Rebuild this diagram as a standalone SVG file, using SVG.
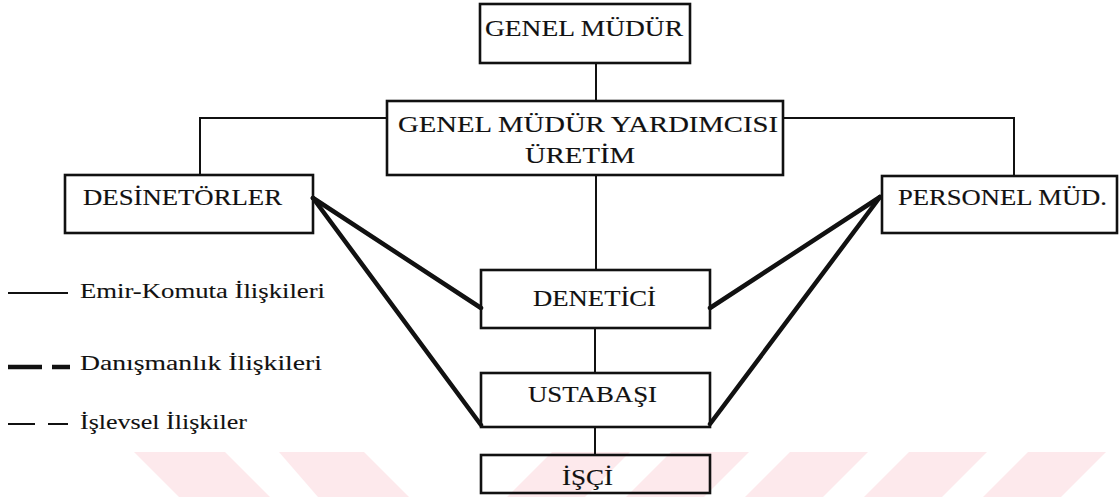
<svg xmlns="http://www.w3.org/2000/svg" width="1119" height="497" viewBox="0 0 1119 497">
<defs>
<style>
.box{fill:none;stroke:#111;stroke-width:2.6}
.t{font-family:"Liberation Serif","Times New Roman",serif;fill:#111;font-size:24px;stroke:#111;stroke-width:0.15}
.lt{font-family:"Liberation Serif","Times New Roman",serif;fill:#111;font-size:21px;stroke:#111;stroke-width:0.1}
.c{stroke:#111;stroke-width:2;fill:none}
.ck{stroke:#111;stroke-width:4.5;fill:none;stroke-linecap:round}
.wm{fill:#fde9ec}
</style>
</defs>
<rect width="1119" height="497" fill="#fff"/>
<g id="watermark">
<polygon class="wm" points="134,452 225,452 270,497 179,497"/>
<polygon class="wm" points="279,452 364,452 409,497 318,497"/>
<polygon class="wm" points="552,452 630,452 585,497 507,497"/>
<polygon class="wm" points="671,452 749,452 704,497 626,497"/>
<polygon class="wm" points="790,452 868,452 823,497 745,497"/>
<polygon class="wm" points="909,452 987,452 942,497 864,497"/>
<polygon class="wm" points="1028,452 1106,452 1061,497 983,497"/>
</g>
<g id="connectors">
<line class="c" x1="596" y1="63" x2="596" y2="101"/>
<polyline class="c" points="387,118 200,118 200,175"/>
<polyline class="c" points="783,118 1014,118 1014,176"/>
<line class="c" x1="596" y1="175" x2="596" y2="270"/>
<line class="c" x1="595" y1="328" x2="595" y2="373"/>
<line class="c" x1="595" y1="427" x2="595" y2="455"/>
<line class="ck" x1="313" y1="198" x2="481" y2="308"/>
<line class="ck" x1="313" y1="198" x2="481" y2="425"/>
<line class="ck" x1="880" y1="197" x2="710" y2="308"/>
<line class="ck" x1="880" y1="197" x2="710" y2="424"/>
</g>
<g id="genel-mudur">
<rect class="box" x="480" y="4" width="210" height="59"/>
<text class="t" x="485" y="36" textLength="198" lengthAdjust="spacingAndGlyphs">GENEL MÜDÜR</text>
</g>
<g id="gmy-uretim">
<rect class="box" x="387" y="101" width="396" height="74"/>
<text class="t" x="398" y="132" textLength="380" lengthAdjust="spacingAndGlyphs">GENEL MÜDÜR YARDIMCISI</text>
<text class="t" x="525" y="163" textLength="110" lengthAdjust="spacingAndGlyphs">ÜRETİM</text>
</g>
<g id="desinetorler">
<rect class="box" x="65" y="175" width="248" height="58"/>
<text class="t" x="83" y="205" textLength="199" lengthAdjust="spacingAndGlyphs">DESİNETÖRLER</text>
</g>
<g id="personel-mud">
<rect class="box" x="882" y="176" width="235" height="57"/>
<text class="t" x="898" y="205" textLength="209" lengthAdjust="spacingAndGlyphs">PERSONEL MÜD.</text>
</g>
<g id="denetici">
<rect class="box" x="481" y="270" width="229" height="58"/>
<text class="t" x="533" y="306" textLength="123" lengthAdjust="spacingAndGlyphs">DENETİCİ</text>
</g>
<g id="ustabasi">
<rect class="box" x="481" y="373" width="229" height="54"/>
<text class="t" x="528" y="402" textLength="129" lengthAdjust="spacingAndGlyphs">USTABAŞI</text>
</g>
<g id="isci">
<rect class="box" x="481" y="455" width="229" height="38"/>
<text class="t" x="562" y="485" textLength="51" lengthAdjust="spacingAndGlyphs">İŞÇİ</text>
</g>
<g id="legend">
<line x1="8" y1="293" x2="68" y2="293" stroke="#111" stroke-width="2"/>
<text class="lt" x="80" y="298" textLength="245" lengthAdjust="spacingAndGlyphs">Emir-Komuta İlişkileri</text>
<line x1="8" y1="367" x2="42" y2="367" stroke="#111" stroke-width="4.5"/>
<line x1="52" y1="367" x2="70" y2="367" stroke="#111" stroke-width="4.5"/>
<text class="lt" x="80" y="370" textLength="242" lengthAdjust="spacingAndGlyphs">Danışmanlık İlişkileri</text>
<line x1="8" y1="424" x2="35" y2="424" stroke="#111" stroke-width="2"/>
<line x1="48" y1="424" x2="68" y2="424" stroke="#111" stroke-width="2"/>
<text class="lt" x="80" y="429" textLength="167" lengthAdjust="spacingAndGlyphs">İşlevsel İlişkiler</text>
</g>
</svg>
